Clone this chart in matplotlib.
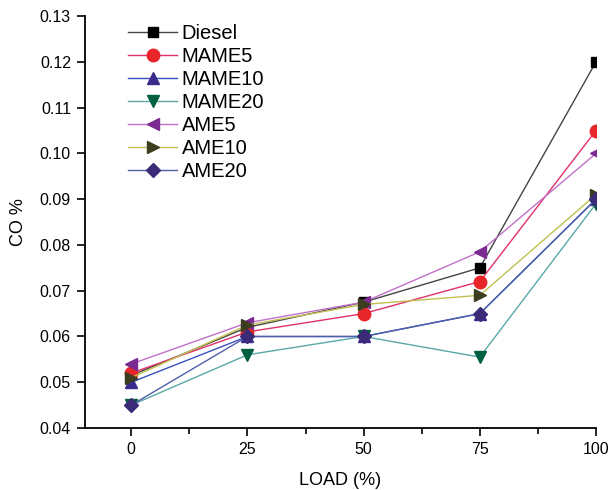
import matplotlib
matplotlib.use("Agg")
import matplotlib.pyplot as plt
from matplotlib.ticker import MultipleLocator

plt.rcParams['font.family'] = ['Liberation Sans', 'DejaVu Sans']

# data
load = [0, 25, 50, 75, 100]
diesel = [0.0515, 0.062, 0.0675, 0.075, 0.120]
mame5 = [0.052, 0.061, 0.065, 0.072, 0.105]
mame10 = [0.050, 0.060, 0.060, 0.065, 0.090]
mame20 = [0.045, 0.056, 0.060, 0.0555, 0.089]
ame5 = [0.054, 0.063, 0.0675, 0.0785, 0.100]
ame10 = [0.051, 0.0625, 0.067, 0.069, 0.091]
ame20 = [0.045, 0.060, 0.060, 0.065, 0.090]

series = [
    ("Diesel", diesel, 's', '#000000', '#444444', 7),
    ("MAME5", mame5, 'o', '#e8262a', '#e0306a', 9),
    ("MAME10", mame10, '^', '#3a2a8c', '#3b4fc0', 9),
    ("MAME20", mame20, 'v', '#00603f', '#5aa8a8', 9),
    ("AME5", ame5, '<', '#7a2a90', '#c070c8', 9),
    ("AME10", ame10, '>', '#3c3c1e', '#c0c050', 9),
    ("AME20", ame20, 'D', '#3a2a78', '#5060a8', 7),
]

fig = plt.figure(figsize=(6.1, 4.9), dpi=100)
ax = fig.add_axes([0.139, 0.1265, 0.838, 0.8405])

for name, vals, mk, mc, lc, ms in series:
    ax.plot(load, vals, color=lc, lw=1.0, marker=mk, ms=ms,
            markerfacecolor=mc, markeredgecolor=mc, label=name)

ax.set_xlim(-10, 100)
ax.set_ylim(0.04, 0.13)
ax.set_xticks(load)
ax.xaxis.set_minor_locator(MultipleLocator(12.5))
ax.yaxis.set_major_locator(MultipleLocator(0.01))
ax.set_yticklabels(["%.2f" % v for v in ax.get_yticks()])
ax.spines['top'].set_visible(False)
ax.spines['right'].set_visible(False)
for s in ('left', 'bottom'):
    ax.spines[s].set_linewidth(1.3)
ax.tick_params(axis='both', which='major', direction='out', length=6,
               width=1.2, labelsize=11.5, pad=4)
ax.tick_params(axis='x', which='minor', direction='out', length=4, width=1.2)

ax.set_xlabel("LOAD (%)", fontsize=13, labelpad=11)
ax.set_ylabel("CO %", fontsize=13, labelpad=9)

ax.legend(loc='upper left', bbox_to_anchor=(0.05, 1.025), frameon=False,
          fontsize=14.5, handlelength=2.4, labelspacing=0.2, handletextpad=0.25)

fig.savefig("out.png", dpi=100)
